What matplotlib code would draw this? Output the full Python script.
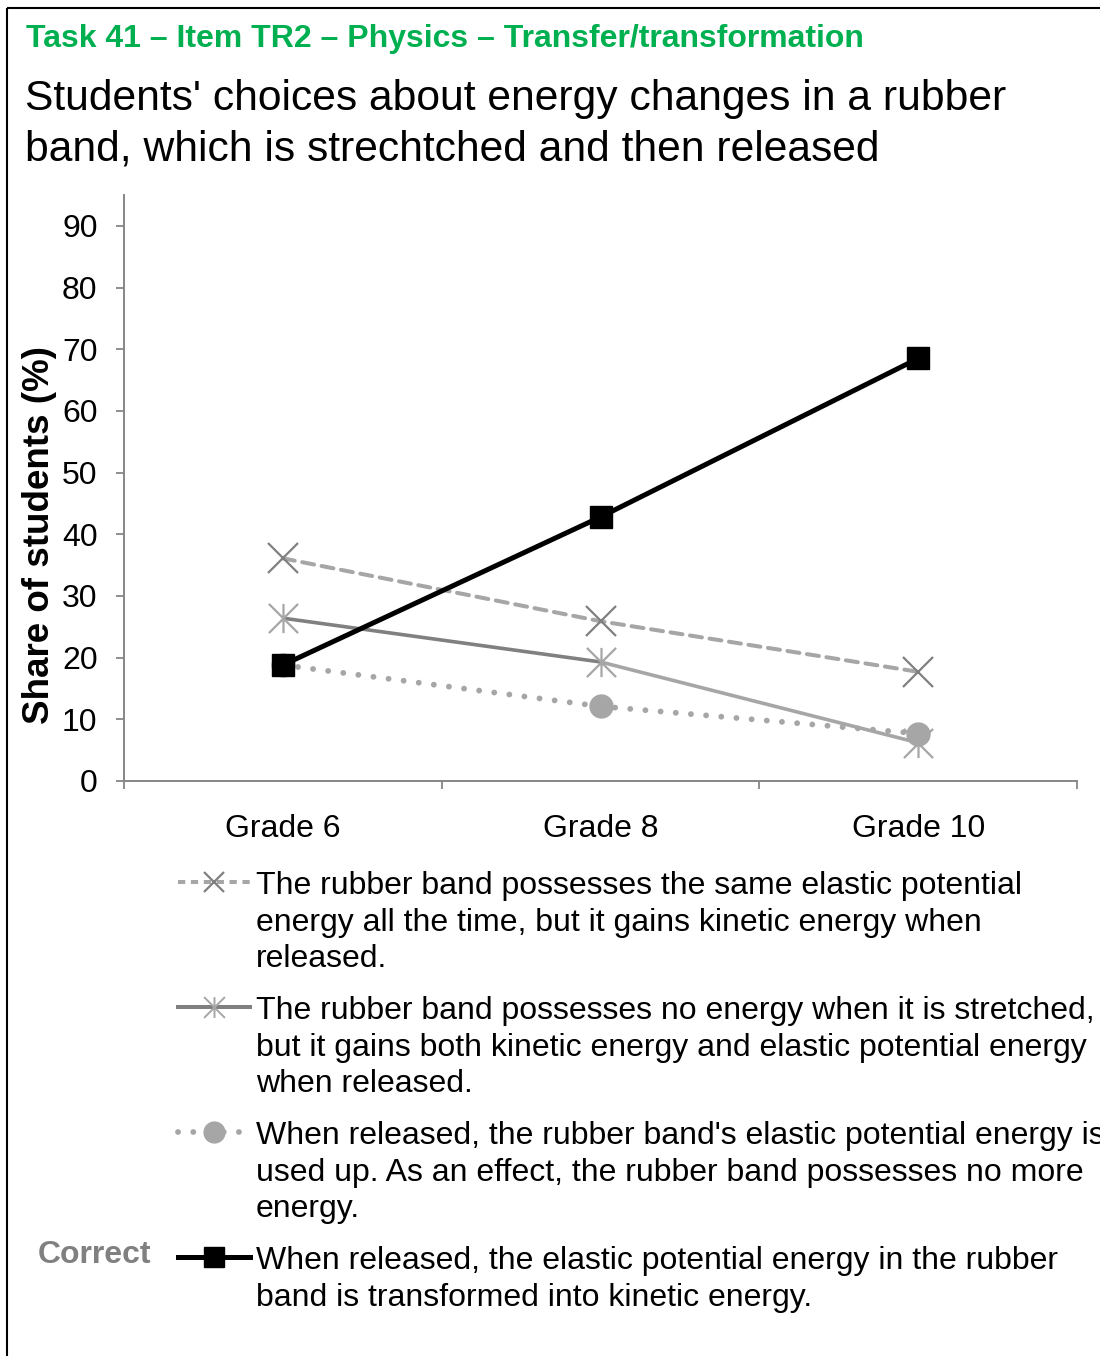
import matplotlib
matplotlib.use("Agg")
import matplotlib.pyplot as plt
from matplotlib.path import Path
import numpy as np

plt.rcParams['font.family'] = ['Liberation Sans', 'DejaVu Sans']

# ---------------- data ----------------
grades = ["Grade 6", "Grade 8", "Grade 10"]
same_elastic_gains_kinetic = [36.1, 25.9, 17.7]
no_energy_when_stretched = [26.4, 19.3, 6.2]
elastic_used_up = [18.8, 12.1, 7.7]
elastic_to_kinetic = [18.8, 42.8, 68.5]

legend_labels = [
    ["The rubber band possesses the same elastic potential",
     "energy all the time, but it gains kinetic energy when",
     "released."],
    ["The rubber band possesses no energy when it is stretched,",
     "but it gains both kinetic energy and elastic potential energy",
     "when released."],
    ["When released, the rubber band's elastic potential energy is",
     "used up. As an effect, the rubber band possesses no more",
     "energy."],
    ["When released, the elastic potential energy in the rubber",
     "band is transformed into kinetic energy."],
]
yticks = [0, 10, 20, 30, 40, 50, 60, 70, 80, 90]
title_text = "Task 41 \u2013 Item TR2 \u2013 Physics \u2013 Transfer/transformation"
subtitle_lines = ["Students' choices about energy changes in a rubber",
                  "band, which is strechtched and then released"]
ylabel_text = "Share of students (%)"

# ---------------- style ----------------
W, H = 1100, 1356
DPI = 100
LIGHT = "#a6a6a6"
MID = "#808080"
AXC = "#868686"
GREEN = "#00b050"

star_path = Path([(-1, -1), (1, 1), (-1, 1), (1, -1), (0, -1), (0, 1)],
                 [Path.MOVETO, Path.LINETO, Path.MOVETO, Path.LINETO,
                  Path.MOVETO, Path.LINETO])

def px2fig(x, y):
    return x / W, 1 - y / H

fig = plt.figure(figsize=(W / DPI, H / DPI), dpi=DPI)

ax_left, ax_right, ax_top, ax_bot = 124, 1077, 195, 781
ax = fig.add_axes([ax_left / W, 1 - ax_bot / H, (ax_right - ax_left) / W,
                   (ax_bot - ax_top) / H])

x = np.arange(1, len(grades) + 1)

# series 1: dashed, x markers
ax.plot(x, same_elastic_gains_kinetic, color=LIGHT, lw=2.9,
        linestyle=(0, (3.0, 1.9)), dash_capstyle='round', zorder=2)
ax.plot(x, same_elastic_gains_kinetic, linestyle='none', marker='x',
        markersize=21, mew=1.6, color=MID, zorder=3)

# series 2: solid gray (two-tone segments), asterisk markers
seg_colors = [MID, LIGHT]
for i in range(len(x) - 1):
    ax.plot(x[i:i + 2], no_energy_when_stretched[i:i + 2], color=seg_colors[i],
            lw=2.6, solid_capstyle='butt', zorder=2)
ax.plot(x, no_energy_when_stretched, linestyle='none', marker=star_path,
        markersize=21, mew=1.6, color=LIGHT, mfc='none', zorder=3)

# series 3: dotted, circle markers
ax.plot(x, elastic_used_up, color=LIGHT, lw=4.2,
        linestyle=(0, (0.01, 2.6)), dash_capstyle='round', zorder=2)
ax.plot(x, elastic_used_up, linestyle='none', marker='o', markersize=16.5,
        color=LIGHT, mec=LIGHT, zorder=3)

# series 4: black solid, squares
ax.plot(x, elastic_to_kinetic, color='black', lw=3.6, marker='s',
        markersize=16, zorder=4)

ax.set_xlim(0.5, len(grades) + 0.5)
ax.set_ylim(0, 95)
ax.set_yticks(yticks)
ax.set_yticklabels([str(v) for v in yticks], fontsize=23)
ax.set_xticks(np.arange(0.5, len(grades) + 1, 1.0))
ax.set_xticklabels([])
ax.set_xticks(x, minor=True)
ax.set_xticklabels(grades, minor=True, fontsize=23)
ax.tick_params(axis='x', which='minor', length=0, pad=24)
ax.tick_params(axis='x', which='major', length=6, width=1.3, color=AXC,
               direction='out')
ax.tick_params(axis='y', length=6, width=1.3, color=AXC, direction='out',
               pad=13)
for s in ['top', 'right']:
    ax.spines[s].set_visible(False)
for s in ['left', 'bottom']:
    ax.spines[s].set_color(AXC)
    ax.spines[s].set_linewidth(1.4)
ax.set_facecolor('none')

# y label
fx, fy = px2fig(40, 535)
fig.text(fx, fy, ylabel_text, rotation=90, ha='center', va='center',
         fontsize=26.5, fontweight='bold')

# titles
fx, fy = px2fig(26, 47)
fig.text(fx, fy, title_text, color=GREEN, fontsize=23, fontweight='bold',
         ha='left', va='baseline')
for i, line in enumerate(subtitle_lines):
    fx, fy = px2fig(25, 110 + 50 * i)
    fig.text(fx, fy, line, fontsize=30.7, ha='left', va='baseline')

# legend (manual)
lax = fig.add_axes([0, 0, 1, 1], zorder=5)
lax.set_xlim(0, W)
lax.set_ylim(H, 0)
lax.axis('off')
entry_y = [882, 1007, 1132, 1257]
line_gap = 36.7
hx0, hx1, hxm = 178, 250, 214
handle_specs = [
    dict(line=dict(color=LIGHT, lw=2.9, linestyle=(0, (1.8, 1.4))),
         marker=dict(marker='x', markersize=15, mew=1.6, color=MID)),
    dict(line=dict(color=MID, lw=2.9, linestyle='-'),
         marker=dict(marker=star_path, markersize=15, mew=1.4, color=LIGHT)),
    dict(line=dict(color=LIGHT, lw=4.2, linestyle=(0, (0.01, 2.6)),
                   dash_capstyle='round'),
         marker=dict(marker='o', markersize=15, color=LIGHT)),
    dict(line=dict(color='black', lw=3.6, linestyle='-'),
         marker=dict(marker='s', markersize=15, color='black')),
]
for ey, spec, lines in zip(entry_y, handle_specs, legend_labels):
    lax.plot([hx0, hx1], [ey, ey], **spec['line'])
    lax.plot([hxm], [ey], linestyle='none', **spec['marker'])
    for j, t in enumerate(lines):
        lax.text(256, ey + j * line_gap + 12, t, fontsize=23, ha='left',
                 va='baseline')
lax.text(38, 1263, "Correct", fontsize=23, fontweight='bold', color=MID,
         ha='left', va='baseline')

# frame
lax.plot([7, 7], [8, H], color='black', lw=1.5, solid_capstyle='butt')
lax.plot([7, W], [8, 8], color='black', lw=1.5, solid_capstyle='butt')

fig.savefig("out.png", dpi=DPI)
